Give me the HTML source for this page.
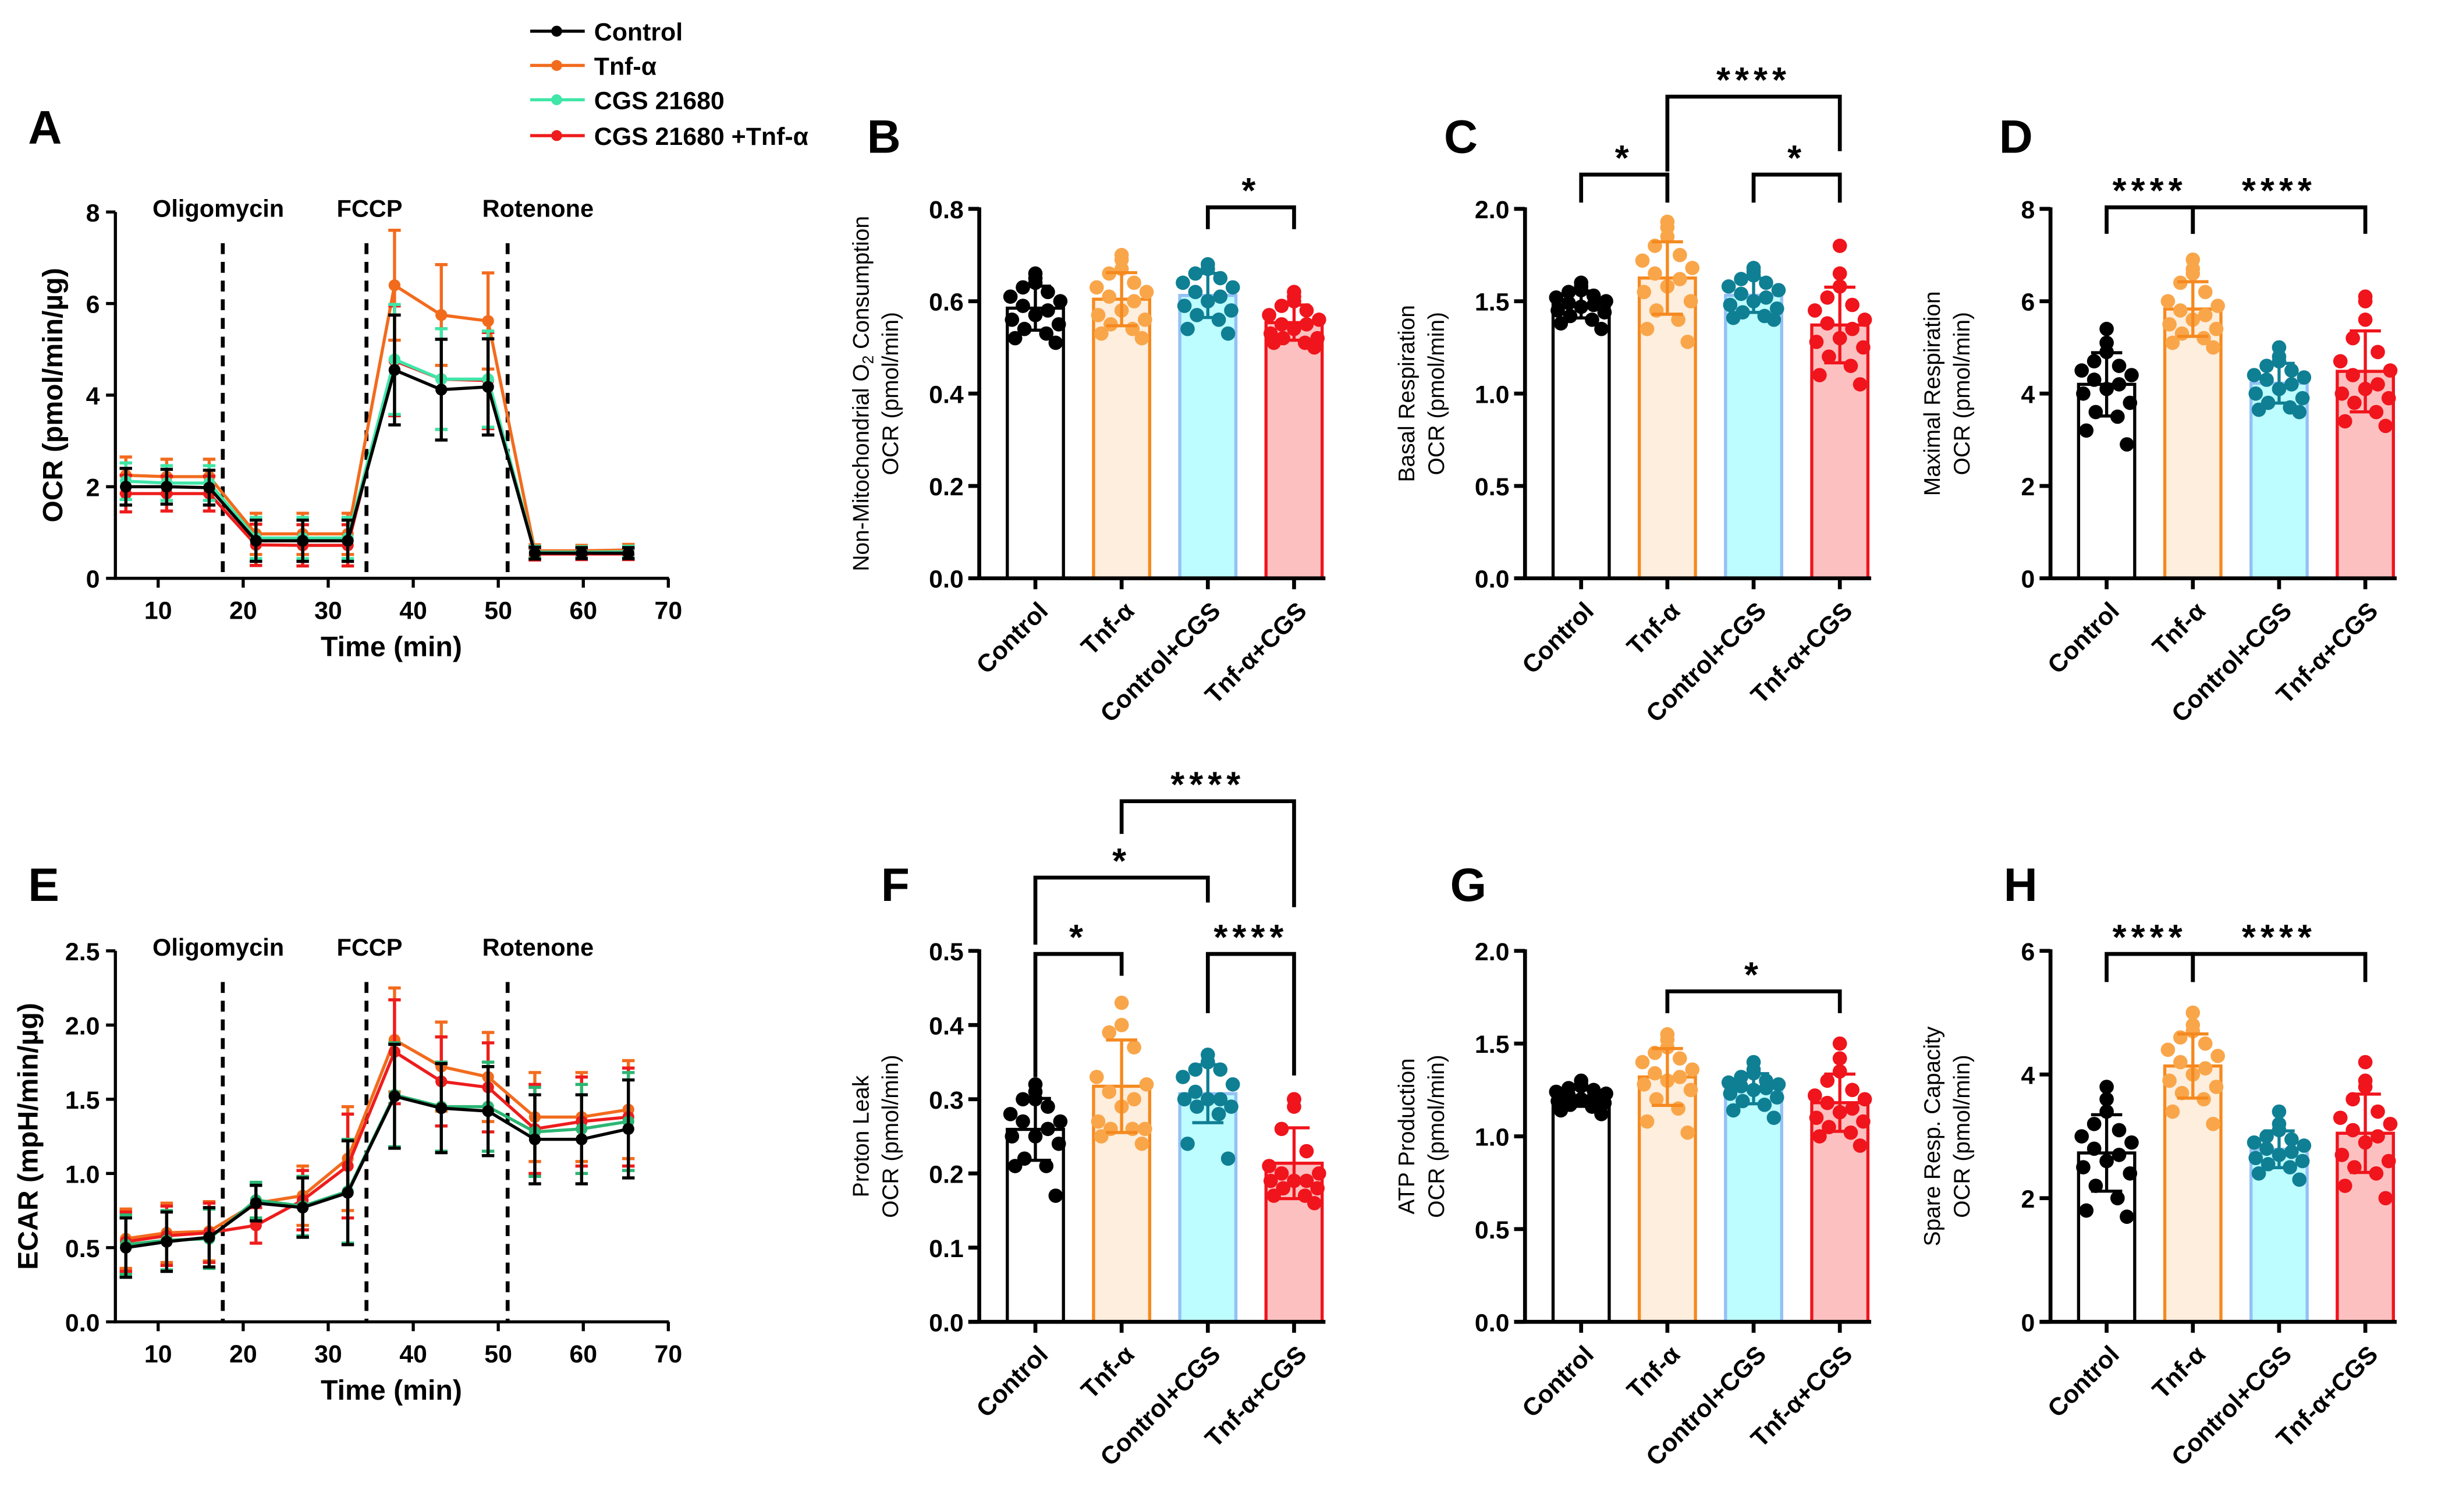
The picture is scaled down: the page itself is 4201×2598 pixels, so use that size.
<!DOCTYPE html>
<html><head><meta charset="utf-8"><style>
html,body{margin:0;padding:0;background:#fff;}
svg{display:block;font-family:"Liberation Sans",Arial,sans-serif;}
</style></head><body>
<svg id="fig" width="4201" height="2598" viewBox="0 0 1568 970" preserveAspectRatio="none" xmlns="http://www.w3.org/2000/svg">
<g font-weight="bold" font-size="16">
<line x1="340" y1="20" x2="375" y2="20" stroke="#000" stroke-width="2"/><circle cx="357" cy="20" r="3.5" fill="#000"/><text x="381" y="26">Control</text>
<line x1="340" y1="42" x2="375" y2="42" stroke="#f26b1d" stroke-width="2"/><circle cx="357" cy="42" r="3.5" fill="#f26b1d"/><text x="381" y="48">Tnf-α</text>
<line x1="340" y1="64" x2="375" y2="64" stroke="#3fe6a8" stroke-width="2"/><circle cx="357" cy="64" r="3.5" fill="#3fe6a8"/><text x="381" y="70">CGS 21680</text>
<line x1="340" y1="87" x2="375" y2="87" stroke="#ee1c1c" stroke-width="2"/><circle cx="357" cy="87" r="3.5" fill="#ee1c1c"/><text x="381" y="93">CGS 21680 +Tnf-α</text>
</g>
<g font-weight="bold" font-size="30">
<text x="18" y="92">A</text>
<text x="556" y="98">B</text>
<text x="926" y="98">C</text>
<text x="1282" y="98">D</text>
<text x="18" y="578">E</text>
<text x="565" y="578">F</text>
<text x="930" y="578">G</text>
<text x="1285" y="578">H</text>
</g>
</svg>
<script>
const NS='http://www.w3.org/2000/svg';
const svg=document.getElementById('fig');
function mk(tag,attrs,parent){const e=document.createElementNS(NS,tag);for(const k in attrs)e.setAttribute(k,attrs[k]);(parent||svg).appendChild(e);return e;}

// ---- line chart data ----
const times=[6.2,11,16,21.5,27,32.3,37.8,43.3,48.8,54.3,59.8,65.3];
const seriesNames=['Control','Tnf-α','CGS 21680','CGS 21680 +Tnf-α'];
const ocrControl=[2.0,2.0,1.98,0.82,0.82,0.82,4.55,4.12,4.18,0.55,0.55,0.55];
const ocrTnf=[2.25,2.22,2.22,0.97,0.97,0.97,6.4,5.75,5.62,0.6,0.6,0.62];
const ocrCgs=[2.12,2.08,2.08,0.88,0.88,0.88,4.78,4.35,4.35,0.57,0.57,0.58];
const ocrCgsTnf=[1.85,1.85,1.85,0.73,0.72,0.72,4.75,4.35,4.32,0.53,0.53,0.53];
const ocrErr=[0.4,0.38,0.38,0.45,0.45,0.45,1.2,1.1,1.05,0.13,0.12,0.12];
const ecarControl=[0.5,0.54,0.57,0.8,0.77,0.87,1.52,1.44,1.42,1.23,1.23,1.3];
const ecarTnf=[0.56,0.6,0.61,0.8,0.85,1.1,1.9,1.72,1.65,1.38,1.38,1.43];
const ecarCgs=[0.52,0.55,0.56,0.82,0.78,0.88,1.53,1.45,1.45,1.28,1.3,1.35];
const ecarCgsTnf=[0.54,0.58,0.6,0.65,0.82,1.05,1.82,1.62,1.58,1.3,1.35,1.38];
const ecarErr=[0.2,0.2,0.2,0.12,0.2,0.35,0.35,0.3,0.3,0.3,0.3,0.33];
const timeTicks=[10,20,30,40,50,60,70];
const injections=[17.6,34.5,51.1];
const injectionLabels=['Oligomycin','FCCP','Rotenone'];
const lineColorsA=['#000','#f26b1d','#3fe6a8','#ee1c1c'];
const lineColorsE=['#000','#f26b1d','#2bb673','#ee1c1c'];

function lineChart(cfg){
  const g=mk('g',{});
  
  
  const x=t=>46.9+(t)*5.453;
  const y=v=>cfg.y0-(v/cfg.ymax)*(cfg.y0-cfg.ytop);
  const ya=mk('line',{x1:74,y1:cfg.ytop,x2:74,y2:cfg.y0+1,stroke:'#000','stroke-width':2},g);
  
  
  const xa=mk('line',{x1:73,y1:cfg.y0,x2:429,y2:cfg.y0,stroke:'#000','stroke-width':2},g);
  
  
  cfg.yticks.forEach(v=>{
    mk('line',{x1:68,y1:y(v),x2:74,y2:y(v),stroke:'#000','stroke-width':2},g);
    const t=mk('text',{x:64,y:y(v)+6,'text-anchor':'end','font-size':16,'font-weight':'bold'},g);
    t.textContent=cfg.ylab(v);
    
    
  });
  timeTicks.forEach(v=>{
    mk('line',{x1:x(v),y1:cfg.y0,x2:x(v),y2:cfg.y0+6,stroke:'#000','stroke-width':2},g);
    const t=mk('text',{x:x(v),y:cfg.y0+26,'text-anchor':'middle','font-size':16,'font-weight':'bold'},g);
    t.textContent=v;
    
    
  });
  const xt=mk('text',{x:251,y:cfg.y0+50,'text-anchor':'middle','font-size':18,'font-weight':'bold'},g);
  xt.textContent='Time (min)';
  
  
  const ytt=mk('text',{x:0,y:0,'text-anchor':'middle','font-size':18,'font-weight':'bold',transform:`translate(${cfg.ytx},${(cfg.y0+cfg.ytop)/2}) rotate(-90)`},g);
  ytt.textContent=cfg.ytitle;
  
  
  injections.forEach((t,i)=>{
    const d=mk('line',{x1:x(t),y1:cfg.ytop+20,x2:x(t),y2:cfg.y0,stroke:'#000','stroke-width':2.5,'stroke-dasharray':'7,5'},g);
    
    
  });
  [[140,'Oligomycin'],[237,'FCCP'],[345,'Rotenone']].forEach((p,i)=>{
    const t=mk('text',{x:p[0],y:cfg.ytop+3,'text-anchor':'middle','font-size':15.5,'font-weight':'bold'},g);
    t.textContent=injectionLabels[i];
    
    
  });
  const order=[1,3,2,0];
  order.forEach(si=>{
    const vals=cfg.series[si];const col=cfg.colors[si];
    const sg=mk('g',{},g);
    
    
    vals.forEach((v,i)=>{
      const e=cfg.err[i];
      mk('line',{x1:x(times[i]),y1:y(v-e),x2:x(times[i]),y2:y(v+e),stroke:col,'stroke-width':2},sg);
      mk('line',{x1:x(times[i])-4,y1:y(v+e),x2:x(times[i])+4,y2:y(v+e),stroke:col,'stroke-width':2},sg);
      mk('line',{x1:x(times[i])-4,y1:y(v-e),x2:x(times[i])+4,y2:y(v-e),stroke:col,'stroke-width':2},sg);
    });
    const pl=mk('polyline',{points:vals.map((v,i)=>x(times[i])+','+y(v)).join(' '),fill:'none',stroke:col,'stroke-width':2},sg);
    
    
    vals.forEach((v,i)=>{
      const c=mk('circle',{cx:x(times[i]),cy:y(v),r:3.8,fill:col},sg);
      
      
    });
  });
}
lineChart({name:'ocr-time-chart',y0:371,ytop:136,ymax:8,yticks:[0,2,4,6,8],ylab:v=>v,ytitle:'OCR (pmol/min/µg)',ytx:40,series:[ocrControl,ocrTnf,ocrCgs,ocrCgsTnf],err:ocrErr,colors:lineColorsA});
lineChart({name:'ecar-time-chart',y0:848,ytop:610,ymax:2.5,yticks:[0,0.5,1,1.5,2,2.5],ylab:v=>v.toFixed(1),ytitle:'ECAR (mpH/min/µg)',ytx:24,series:[ecarControl,ecarTnf,ecarCgs,ecarCgsTnf],err:ecarErr,colors:lineColorsE});

// ---- bar chart data ----
const groups=['Control','Tnf-α','Control+CGS','Tnf-α+CGS'];
const nonMitoCtrl=[0.66,0.65,0.64,0.63,0.62,0.61,0.60,0.59,0.58,0.57,0.56,0.55,0.54,0.53,0.52,0.51];
const nonMitoTnf=[0.70,0.69,0.67,0.66,0.64,0.63,0.62,0.61,0.60,0.58,0.57,0.56,0.55,0.54,0.53,0.52];
const nonMitoCtrlCgs=[0.68,0.67,0.67,0.66,0.65,0.64,0.63,0.62,0.61,0.60,0.59,0.58,0.57,0.56,0.54,0.53];
const nonMitoTnfCgs=[0.62,0.61,0.60,0.59,0.58,0.57,0.56,0.55,0.55,0.54,0.53,0.52,0.52,0.51,0.51,0.50];
const basalCtrl=[1.60,1.58,1.56,1.55,1.53,1.52,1.50,1.49,1.48,1.47,1.45,1.44,1.42,1.40,1.38,1.35];
const basalTnf=[1.93,1.90,1.85,1.80,1.75,1.72,1.68,1.65,1.62,1.58,1.55,1.50,1.45,1.40,1.35,1.28];
const basalCtrlCgs=[1.68,1.66,1.64,1.62,1.60,1.58,1.56,1.54,1.52,1.50,1.48,1.46,1.44,1.42,1.41,1.40];
const basalTnfCgs=[1.80,1.65,1.58,1.52,1.48,1.45,1.40,1.38,1.35,1.30,1.28,1.25,1.20,1.15,1.10,1.05];
const maxCtrl=[5.4,5.1,4.9,4.7,4.6,4.5,4.4,4.3,4.2,4.1,4.0,3.8,3.6,3.5,3.2,2.9];
const maxTnf=[6.9,6.7,6.6,6.4,6.2,6.0,5.9,5.8,5.7,5.6,5.5,5.4,5.3,5.2,5.1,5.0];
const maxCtrlCgs=[5.0,4.8,4.7,4.6,4.5,4.4,4.35,4.3,4.2,4.1,4.0,3.9,3.8,3.7,3.65,3.6];
const maxTnfCgs=[6.1,6.0,5.6,5.2,4.9,4.7,4.5,4.4,4.2,4.1,4.0,3.9,3.8,3.6,3.4,3.3];
const leakCtrl=[0.32,0.31,0.30,0.30,0.29,0.28,0.27,0.27,0.26,0.25,0.25,0.24,0.22,0.21,0.21,0.17];
const leakTnf=[0.43,0.40,0.40,0.39,0.37,0.33,0.32,0.31,0.30,0.29,0.27,0.26,0.26,0.26,0.25,0.24];
const leakCtrlCgs=[0.36,0.35,0.35,0.34,0.34,0.33,0.32,0.31,0.30,0.30,0.30,0.29,0.29,0.28,0.24,0.22];
const leakTnfCgs=[0.30,0.30,0.29,0.26,0.23,0.21,0.20,0.20,0.19,0.19,0.19,0.18,0.18,0.17,0.17,0.16];
const atpCtrl=[1.30,1.28,1.27,1.26,1.25,1.24,1.23,1.22,1.21,1.20,1.19,1.18,1.17,1.16,1.14,1.12];
const atpTnf=[1.55,1.52,1.48,1.45,1.42,1.40,1.36,1.34,1.32,1.30,1.28,1.25,1.20,1.15,1.08,1.02];
const atpCtrlCgs=[1.40,1.36,1.34,1.32,1.30,1.29,1.28,1.27,1.26,1.25,1.23,1.21,1.19,1.17,1.14,1.10];
const atpTnfCgs=[1.50,1.42,1.35,1.30,1.25,1.22,1.20,1.18,1.15,1.13,1.10,1.08,1.05,1.02,1.00,0.95];
const spareCtrl=[3.8,3.6,3.4,3.2,3.1,3.0,2.9,2.8,2.7,2.6,2.5,2.4,2.2,2.0,1.8,1.7];
const spareTnf=[5.0,4.8,4.7,4.6,4.5,4.4,4.3,4.2,4.1,4.0,3.9,3.8,3.7,3.6,3.4,3.2];
const spareCtrlCgs=[3.4,3.2,3.1,3.0,2.95,2.9,2.85,2.8,2.75,2.7,2.65,2.6,2.55,2.5,2.4,2.3];
const spareTnfCgs=[4.2,3.9,3.8,3.6,3.4,3.3,3.2,3.1,3.0,2.9,2.7,2.6,2.5,2.4,2.2,2.0];

const dotCol=['#000','#f9a64a','#0f7f94','#f0141c'];
const barFill=['#fff','#fdeedd','#bdfcff','#fdc0c0'];
const barStroke=['#000','#f5891f','#93c1f5','#f0141c'];
const jitter=[[0,-12],[0,0],[0,12],[-8,-13],[8,-6],[-16,0],[16,6],[-8,-4],[8,3],[0,8],[-15,-9],[15,9],[-7,14],[7,-14],[-13,4],[13,-3]];

function barChart(cfg){
  const g=mk('g',{});
  
  
  const ax=cfg.ax, y0=cfg.y0, ytop=cfg.ytop;
  const y=v=>y0-(v/cfg.ymax)*(y0-ytop);
  const cx=i=>ax+36+i*55.3;
  cfg.data.forEach((d,i)=>{
    const m=d.reduce((a,b)=>a+b,0)/d.length;
    const sd=Math.sqrt(d.reduce((a,b)=>a+(b-m)*(b-m),0)/(d.length-1));
    const b=mk('rect',{x:cx(i)-18,y:y(m),width:36,height:y0-y(m),fill:barFill[i],stroke:barStroke[i],'stroke-width':2},g);
    
    
    d.forEach((v,k)=>{
      const yy=y(v);
      const c=mk('circle',{cx:cx(i)+jitter[k][0],cy:yy,r:4.6,fill:dotCol[i]},g);
      
      
    });
    const eg=mk('g',{stroke:barStroke[i]==='#93c1f5'?'#0f7f94':dotCol[i]==='#f9a64a'?'#f5891f':dotCol[i],'stroke-width':2},g);
    
    
    mk('line',{x1:cx(i),y1:y(m-sd),x2:cx(i),y2:y(m+sd)},eg);
    mk('line',{x1:cx(i)-10,y1:y(m+sd),x2:cx(i)+10,y2:y(m+sd)},eg);
    mk('line',{x1:cx(i)-10,y1:y(m-sd),x2:cx(i)+10,y2:y(m-sd)},eg);
  });
  const ya=mk('line',{x1:ax,y1:ytop-1,x2:ax,y2:y0+1,stroke:'#000','stroke-width':2.5},g);
  
  
  const xa=mk('line',{x1:ax-7,y1:y0,x2:ax+222,y2:y0,stroke:'#000','stroke-width':2.5},g);
  
  
  cfg.yticks.forEach(v=>{
    mk('line',{x1:ax-7,y1:y(v),x2:ax,y2:y(v),stroke:'#000','stroke-width':2.5},g);
    const t=mk('text',{x:ax-10,y:y(v)+6,'text-anchor':'end','font-size':16,'font-weight':'bold'},g);
    t.textContent=cfg.ylab(v);
    
    
  });
  groups.forEach((n,i)=>{
    mk('line',{x1:cx(i),y1:y0,x2:cx(i),y2:y0+7,stroke:'#000','stroke-width':2.5},g);
    const t=mk('text',{x:0,y:0,'text-anchor':'end','font-size':16,'font-weight':'bold',transform:`translate(${cx(i)+9},${y0+22}) rotate(-45)`},g);
    t.textContent=n;
    
    
  });
  const yc=(y0+ytop)/2;
  const t1=mk('text',{x:0,y:0,'text-anchor':'middle','font-size':14.5,transform:`translate(${ax-71},${yc}) rotate(-90)`},g);
  t1.innerHTML=cfg.t1;
  
  
  const t2=mk('text',{x:0,y:0,'text-anchor':'middle','font-size':14.5,transform:`translate(${ax-52},${yc}) rotate(-90)`},g);
  t2.textContent='OCR (pmol/min)';
  
  
  cfg.sig.forEach(s=>{
    const [a,b,ly,la,lb,lab]=s;
    const sg=mk('g',{},g);
    
    
    mk('polyline',{points:`${cx(a)},${la} ${cx(a)},${ly} ${cx(b)},${ly} ${cx(b)},${lb}`,fill:'none',stroke:'#000','stroke-width':2.5},sg);
    const t=mk('text',{x:(cx(a)+cx(b))/2,y:ly-3,'text-anchor':'middle','font-size':23,'font-weight':'bold','letter-spacing':'3'},sg);
    t.textContent=lab;
    
    
  });
}
barChart({name:'non-mito-chart',ax:628,y0:371,ytop:134,ymax:0.8,yticks:[0,0.2,0.4,0.6,0.8],ylab:v=>v.toFixed(1),t1:'Non-Mitochondrial O<tspan font-size="10" dy="3">2</tspan><tspan dy="-3"> Consumption</tspan>',data:[nonMitoCtrl,nonMitoTnf,nonMitoCtrlCgs,nonMitoTnfCgs],sig:[[2,3,133,147,147,'*']]});
barChart({name:'basal-chart',ax:978,y0:371,ytop:134,ymax:2.0,yticks:[0,0.5,1,1.5,2],ylab:v=>v.toFixed(1),t1:'Basal Respiration',data:[basalCtrl,basalTnf,basalCtrlCgs,basalTnfCgs],sig:[[0,1,112,130,130,'*'],[1,3,62,110,97,'****'],[2,3,112,130,130,'*']]});
barChart({name:'maximal-chart',ax:1315,y0:371,ytop:134,ymax:8,yticks:[0,2,4,6,8],ylab:v=>v,t1:'Maximal Respiration',data:[maxCtrl,maxTnf,maxCtrlCgs,maxTnfCgs],sig:[[0,1,133,150,150,'****'],[1,3,133,150,150,'****']]});
barChart({name:'proton-leak-chart',ax:628,y0:848,ytop:610,ymax:0.5,yticks:[0,0.1,0.2,0.3,0.4,0.5],ylab:v=>v.toFixed(1),t1:'Proton Leak',data:[leakCtrl,leakTnf,leakCtrlCgs,leakTnfCgs],sig:[[0,1,612,691,626,'*'],[0,2,563,606,579,'*'],[1,3,514,535,582,'****'],[2,3,612,650,690,'****']]});
barChart({name:'atp-chart',ax:978,y0:848,ytop:610,ymax:2.0,yticks:[0,0.5,1,1.5,2],ylab:v=>v.toFixed(1),t1:'ATP Production',data:[atpCtrl,atpTnf,atpCtrlCgs,atpTnfCgs],sig:[[1,3,636,650,650,'*']]});
barChart({name:'spare-capacity-chart',ax:1315,y0:848,ytop:610,ymax:6,yticks:[0,2,4,6],ylab:v=>v,t1:'Spare Resp. Capacity',data:[spareCtrl,spareTnf,spareCtrlCgs,spareTnfCgs],sig:[[0,1,612,630,630,'****'],[1,3,612,630,630,'****']]});
</script>
</body></html>
